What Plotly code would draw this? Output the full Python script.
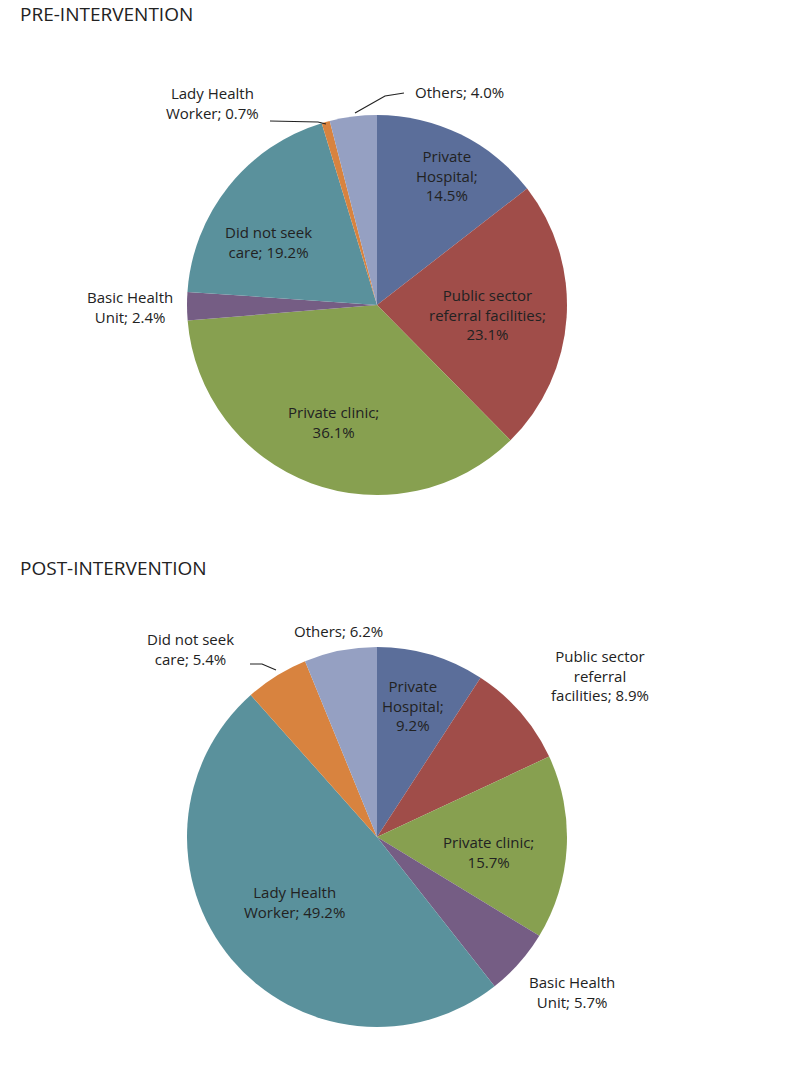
import plotly.graph_objects as go

W, H = 800, 1080
pre_labels = ["Private Hospital", "Public sector referral facilities", "Private clinic",
              "Basic Health Unit", "Did not seek care", "Lady Health Worker", "Others"]
pre_values = [14.5, 23.1, 36.1, 2.4, 19.2, 0.7, 4.0]
pre_colors = ["#5B6E9A", "#A04D49", "#87A050", "#755D84", "#5A919C", "#D8833F", "#95A0C2"]

post_labels = ["Private Hospital", "Public sector referral facilities", "Private clinic",
               "Basic Health Unit", "Lady Health Worker", "Did not seek care", "Others"]
post_values = [9.2, 8.9, 15.7, 5.7, 49.2, 5.4, 6.2]
post_colors = ["#5B6E9A", "#A04D49", "#87A050", "#755D84", "#5A919C", "#D8833F", "#95A0C2"]

OFF = 8
def px(x, y):
    return (x - OFF) / W, 1 - (y - OFF) / H

def dom(cx, cy, r):
    x0, y1 = px(cx - r, cy - r)
    x1, y0 = px(cx + r, cy + r)
    return dict(x=[x0, x1], y=[y0, y1])

fig = go.Figure()
for labels, values, colors, d in [
    (pre_labels, pre_values, pre_colors, dom(377, 305, 190)),
    (post_labels, post_values, post_colors, dom(377, 837, 190)),
]:
    fig.add_trace(go.Pie(labels=labels, values=values, sort=False, direction="clockwise",
                         rotation=0, marker=dict(colors=colors, line=dict(width=0)),
                         textinfo="none", hoverinfo="label+percent", domain=d,
                         showlegend=False))

font = dict(family="Open Sans, Liberation Sans, sans-serif", size=15, color="#222")
ann = [
    ("Private<br>Hospital;<br>14.5%", 447, 175), ("Public sector<br>referral facilities;<br>23.1%", 487, 315),
    ("Private clinic;<br>36.1%", 333, 422), ("Did not seek<br>care; 19.2%", 268, 242),
    ("Basic Health<br>Unit; 2.4%", 130, 307), ("Lady Health<br>Worker; 0.7%", 213, 103),
    ("Others; 4.0%", 459, 92),
    ("Private<br>Hospital;<br>9.2%", 413, 705), ("Public sector<br>referral<br>facilities; 8.9%", 600, 675),
    ("Private clinic;<br>15.7%", 489, 852), ("Basic Health<br>Unit; 5.7%", 572, 992),
    ("Lady Health<br>Worker; 49.2%", 294, 902), ("Did not seek<br>care; 5.4%", 190, 649),
    ("Others; 6.2%", 338, 631),
]
for t, x, y in ann:
    ax, ay = px(x, y)
    fig.add_annotation(text=t, x=ax, y=ay, xref="paper", yref="paper", showarrow=False,
                       xanchor="center", yanchor="middle", font=font, align="center")
for t, x, y in [("PRE-INTERVENTION", 18, 14), ("POST-INTERVENTION", 18, 568)]:
    ax, ay = px(x, y)
    fig.add_annotation(text=t, x=ax, y=ay, xref="paper", yref="paper", showarrow=False,
                       xanchor="left", yanchor="middle",
                       font=dict(family="Open Sans, Liberation Sans, sans-serif", size=19, color="#222"))

for pts in [[(270, 121), (318, 122), (326, 124)], [(404, 93), (385, 96), (355, 113)],
            [(250, 664), (262, 664), (276, 670)]]:
    path = "M " + " L ".join(f"{px(x,y)[0]},{px(x,y)[1]}" for x, y in pts)
    fig.add_shape(type="path", path=path, xref="paper", yref="paper",
                  line=dict(color="#222", width=1.2))

fig.update_layout(width=W, height=H, margin=dict(l=0, r=0, t=0, b=0),
                  paper_bgcolor="white", plot_bgcolor="white")
fig.write_html("out.html")
